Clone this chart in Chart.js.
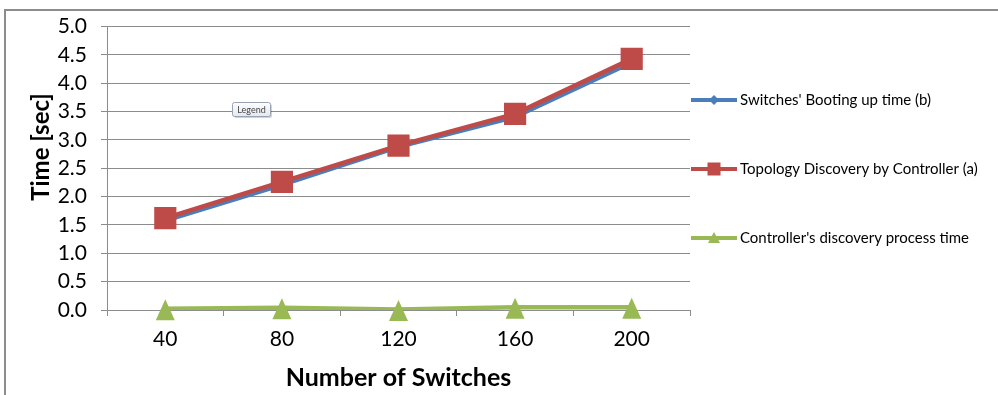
<!DOCTYPE html>
<html>
<head>
<meta charset="utf-8">
<script src="https://cdn.jsdelivr.net/npm/chart.js@4.4.1/dist/chart.umd.min.js"></script>
<style>
  html, body { margin: 0; padding: 0; background: #fff; }
  #wrap { width: 998px; height: 395px; position: relative; }
</style>
</head>
<body>
<div id="wrap"><canvas id="c" width="998" height="395"></canvas></div>
<script>
const categories = ['40', '80', '120', '160', '200'];
const bootingUp = [1.57, 2.20, 2.87, 3.40, 4.36];
const topologyDiscovery = [1.62, 2.26, 2.90, 3.46, 4.43];
const discoveryProcess = [0.02, 0.04, 0.01, 0.05, 0.05];
const seriesNames = ["Switches' Booting up time (b)", "Topology Discovery by Controller (a)", "Controller's discovery process time"];
const yTitle = 'Time [sec]';
const xTitle = 'Number of Switches';

const FONT = 'Lato, "Open Sans", sans-serif';
const GREEN = '#98B954';

const decor = {
  id: 'decor',
  beforeDraw(chart) {
    const ctx = chart.ctx;
    ctx.save();
    ctx.fillStyle = '#fff';
    ctx.fillRect(0, 0, chart.width, chart.height);
    ctx.strokeStyle = '#8c8c8c';
    ctx.lineWidth = 2;
    ctx.beginPath();
    ctx.moveTo(5, 395);
    ctx.lineTo(5, 10);
    ctx.lineTo(998, 10);
    ctx.stroke();
    ctx.restore();
  },
  afterDatasetsDraw(chart) {
    // tall triangle markers for the green series, at the library's point positions
    const ctx = chart.ctx;
    const meta = chart.getDatasetMeta(2);
    ctx.save();
    ctx.fillStyle = GREEN;
    meta.data.forEach(pt => {
      const x = pt.x, y = pt.y + 1;
      ctx.beginPath();
      ctx.moveTo(x, y - 10.5);
      ctx.lineTo(x + 9.5, y + 10.5);
      ctx.lineTo(x - 9.5, y + 10.5);
      ctx.closePath();
      ctx.fill();
    });
    ctx.restore();
  },
  afterDraw(chart) {
    const ctx = chart.ctx;
    const area = chart.chartArea;
    ctx.save();
    // axis titles
    ctx.fillStyle = '#000';
    ctx.font = 'bold 25px ' + FONT;
    ctx.textAlign = 'center';
    ctx.textBaseline = 'middle';
    ctx.fillText(xTitle, (area.left + area.right) / 2, 378);
    ctx.save();
    ctx.translate(41, 147);
    ctx.rotate(-Math.PI / 2);
    ctx.font = 'bold 24px ' + FONT;
    ctx.fillText(yTitle, 0, 0);
    ctx.restore();

    // legend
    const ys = [100, 169, 238];
    const cx = 714;
    chart.data.datasets.forEach((ds, i) => {
      const y = ys[i];
      ctx.strokeStyle = ds.borderColor;
      ctx.lineWidth = 4;
      ctx.beginPath();
      ctx.moveTo(691, y);
      ctx.lineTo(737, y);
      ctx.stroke();
      ctx.fillStyle = ds.borderColor;
      ctx.beginPath();
      if (i === 0) {
        const r = 5;
        ctx.moveTo(cx, y - r); ctx.lineTo(cx + r, y); ctx.lineTo(cx, y + r); ctx.lineTo(cx - r, y);
      } else if (i === 1) {
        const r = 6.5;
        ctx.rect(cx - r, y - r, 2 * r, 2 * r);
      } else {
        ctx.moveTo(cx, y - 6); ctx.lineTo(cx + 6, y + 5); ctx.lineTo(cx - 6, y + 5);
      }
      ctx.closePath();
      ctx.fill();
      ctx.fillStyle = '#000';
      ctx.font = '15px ' + FONT;
      ctx.textAlign = 'left';
      ctx.textBaseline = 'middle';
      ctx.fillText(ds.label, 740, y);
    });

    // "Legend" callout box
    const bx = 232, by = 102, bw = 38, bh = 14;
    ctx.fillStyle = 'rgba(0,0,0,0.18)';
    ctx.beginPath();
    ctx.roundRect(bx + 2, by + 2, bw, bh, 2);
    ctx.fill();
    const g = ctx.createLinearGradient(0, by, 0, by + bh);
    g.addColorStop(0, '#ffffff');
    g.addColorStop(1, '#e4e8f0');
    ctx.fillStyle = g;
    ctx.strokeStyle = '#9aa3b4';
    ctx.lineWidth = 1;
    ctx.beginPath();
    ctx.roundRect(bx + 0.5, by + 0.5, bw, bh, 2);
    ctx.fill();
    ctx.stroke();
    ctx.fillStyle = '#444';
    ctx.font = '9px ' + FONT;
    ctx.textAlign = 'center';
    ctx.textBaseline = 'middle';
    ctx.fillText('Legend', bx + bw / 2 + 0.5, by + bh / 2 + 1);
    ctx.restore();
  }
};

new Chart(document.getElementById('c'), {
  type: 'line',
  data: {
    labels: categories,
    datasets: [
      {
        label: seriesNames[0],
        data: bootingUp,
        borderColor: '#4A7EBB',
        backgroundColor: '#4A7EBB',
        pointBackgroundColor: '#4A7EBB',
        pointBorderColor: '#4A7EBB',
        borderWidth: 3.5,
        pointStyle: 'rectRot',
        pointRadius: 4.5,
        order: 2
      },
      {
        label: seriesNames[1],
        data: topologyDiscovery,
        borderColor: '#BE4B48',
        backgroundColor: '#BE4B48',
        pointBackgroundColor: '#BE4B48',
        pointBorderColor: '#BE4B48',
        borderWidth: 4.5,
        pointStyle: 'rect',
        pointRadius: 12.5,
        order: 1
      },
      {
        label: seriesNames[2],
        data: discoveryProcess,
        borderColor: GREEN,
        backgroundColor: GREEN,
        pointBackgroundColor: GREEN,
        pointBorderColor: GREEN,
        borderWidth: 4.5,
        pointStyle: 'triangle',
        pointRadius: 0,
        order: 0
      }
    ]
  },
  options: {
    responsive: false,
    animation: false,
    events: [],
    layout: { padding: { left: 5, right: 308, top: 26, bottom: 0 } },
    plugins: { legend: { display: false }, tooltip: { enabled: false } },
    elements: { line: { tension: 0 }, point: { borderWidth: 0 } },
    scales: {
      x: {
        offset: true,
        grid: { offset: true, drawOnChartArea: false, drawTicks: true, tickLength: 6, color: '#8c8c8c', lineWidth: 1 },
        border: { display: true, color: '#8c8c8c', width: 1 },
        ticks: { color: '#000', font: { family: FONT, size: 21 }, padding: 11 },
        afterFit(s) { s.height = 85; }
      },
      y: {
        min: 0, max: 5,
        ticks: { stepSize: 0.5, color: '#000', font: { family: FONT, size: 21 }, padding: 14,
                 callback: v => Number(v).toFixed(1) },
        grid: { color: '#8c8c8c', lineWidth: 1, tickLength: 6, drawTicks: true },
        border: { display: true, color: '#8c8c8c', width: 1 },
        afterFit(s) { s.width = 102; }
      }
    }
  },
  plugins: [decor]
});
</script>
</body>
</html>
